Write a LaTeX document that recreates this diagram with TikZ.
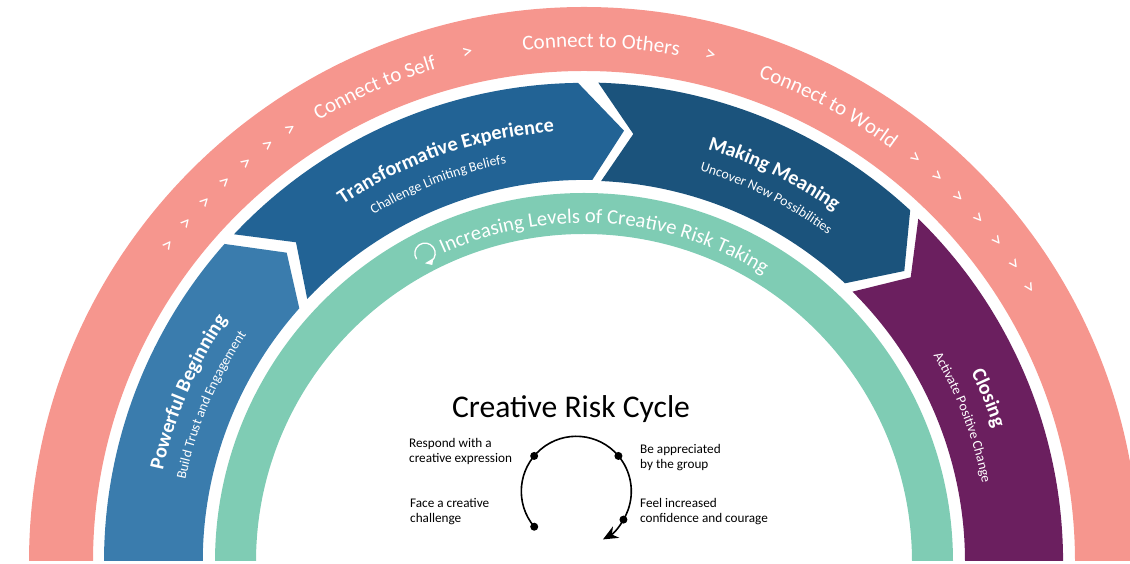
\documentclass[tikz,border=0pt]{standalone}
\usepackage{fontspec}
\setmainfont{Carlito}
\usetikzlibrary{decorations.text,arrows.meta,calc}
\definecolor{pinkring}{HTML}{F6968E}
\definecolor{tealring}{HTML}{7FCCB4}
\definecolor{lightblue}{HTML}{3A7CAD}
\definecolor{midblue}{HTML}{226395}
\definecolor{darkblue}{HTML}{1B537C}
\definecolor{plum}{HTML}{6B1F5F}
\newcommand{\curvedtext}[6]{% radius, centre angle, half span, font, text, centre
  \path[decorate,decoration={text along path,text color=white,text align=center,
    text={|#4|#5}}] ($(#6)+(#2+#3:#1pt)$) arc (#2+#3:#2-#3:#1pt);}
\newcommand{\fring}{\fontsize{21}{21}\selectfont}
\newcommand{\fteal}{\fontsize{20.6}{21}\selectfont}
\newcommand{\fhead}{\fontsize{20.3}{21}\selectfont\bfseries}
\newcommand{\fsub}{\fontsize{13.8}{14}\selectfont}
\tikzset{
  chev/.style={text=white,font=\fontsize{21}{21}\selectfont,inner sep=0pt},
  dot/.style={circle,fill=black,inner sep=0pt,minimum size=8pt},
  small/.style={anchor=west,align=left,font=\fontsize{13.2}{15}\selectfont,inner sep=0pt},
}
\begin{document}
\begin{tikzpicture}[x=1pt,y=1pt]
\useasboundingbox (0,0) rectangle (1130,564);
\coordinate (C) at (584,2);
\begin{scope}
\clip (0,3) rectangle (1130,564);
\fill[pinkring] ($(C)+(180:555pt)$) arc (180:0:555pt) -- ($(C)+(0:491pt)$) arc (0:180:491pt) -- cycle;
\fill[tealring] ($(C)+(180:369pt)$) arc (180:0:369pt) -- ($(C)+(0:328pt)$) arc (0:180:328pt) -- cycle;
% Powerful Beginning
\fill[lightblue] ($(C)+(180:480pt)$) arc (180:138.5:480pt) -- (286.7,311.3) -- (299.3,255.7) arc (138.3:180:381pt) -- cycle;
% Transformative
\fill[midblue] (234,329.7) arc (136.8:90.7:480pt) -- (624,433.3) -- (592.3,384) arc (88.8:136.5:382pt) -- (296,321.7) -- cycle;
% Making Meaning
\fill[darkblue] (598.3,481.3) arc (88.3:47.2:480pt) -- (904.3,293) -- (845,280.7) arc (47:87.5:382pt) -- (633.3,430) -- cycle;
% Closing
\fill[plum] (918.3,345.3) arc (45.7:0:480pt) -- ($(C)+(0:381pt)$) arc (0:45.2:381pt) -- (910.7,286.7) -- cycle;
\end{scope}
% ring labels
\curvedtext{515}{113.8}{25}{\fring}{Connect to Self}{C}
\curvedtext{515}{88.1}{25}{\fring}{Connect to Others}{C}
\curvedtext{515}{61.8}{25}{\fring}{Connect to World}{C}
\curvedtext{339}{86.3}{40}{\fteal}{Increasing Levels of Crea{ti}ve Risk Taking}{C}
% segment labels
\curvedtext{431}{109}{30}{\fhead}{Transforma{ti}ve Experience}{C}
\curvedtext{406}{111.1}{30}{\fsub}{Challenge Limi{ti}ng Beliefs}{C}
\curvedtext{431}{63.9}{30}{\fhead}{Making Meaning}{C}
\curvedtext{408}{63.4}{30}{\fsub}{Uncover New Possibili{ti}es}{C}
\curvedtext{431}{156.8}{30}{\fhead}{Powerful Beginning}{C}
\curvedtext{407}{157.2}{30}{\fsub}{Build Trust and Engagement}{C}
\curvedtext{431}{22.1}{30}{\fhead}{Closing}{C}
\curvedtext{406}{20.9}{30}{\fsub}{Ac{ti}vate Posi{ti}ve Change}{C}
% chevrons
\foreach \a [count=\i] in {142.7,139.6,136.5,133.4,130.3,127.2,124.2,102.9,76,50.7,47.5,44.3,41.1,37.9,34.7,31.6}
  \node[chev,rotate=\a-90] (chev\i) at ($(C)+(\a:522pt)$) {>};
% icon
\coordinate (ic) at (425,310.7);
\draw[white,line width=1.3pt] ($(ic)+(215:10.2pt)$) arc (215:-50:10.2pt);
\fill[white] (425,300.7) -- (433.3,305.7) -- (432.3,299) -- cycle;
% centre
\node[font=\fontsize{31.6}{32}\selectfont] (title) at (571,155) {Creative Risk Cycle};
\coordinate (O) at (576.3,72.7);
\node[dot] (d1) at ($(O)+(220.1:55pt)$) {};
\node[dot] (d2) at ($(O)+(140:55pt)$) {};
\node[dot] (d3) at ($(O)+(40:55pt)$) {};
\node[dot] (d4) at ($(O)+(-31:55pt)$) {};
\draw[black,line width=1.6pt,-{Stealth[length=15pt,width=13pt]}] (d1.center) arc (220.1:-61:55pt);
\node[small] (l1) at (409,112.5) {Respond with a\\creative expression};
\node[small] (l2) at (640,106) {Be appreciated\\by the group};
\node[small] (l3) at (410,52) {Face a creative\\challenge};
\node[small] (l4) at (640,52) {Feel increased\\confidence and courage};
\end{tikzpicture}
\end{document}
